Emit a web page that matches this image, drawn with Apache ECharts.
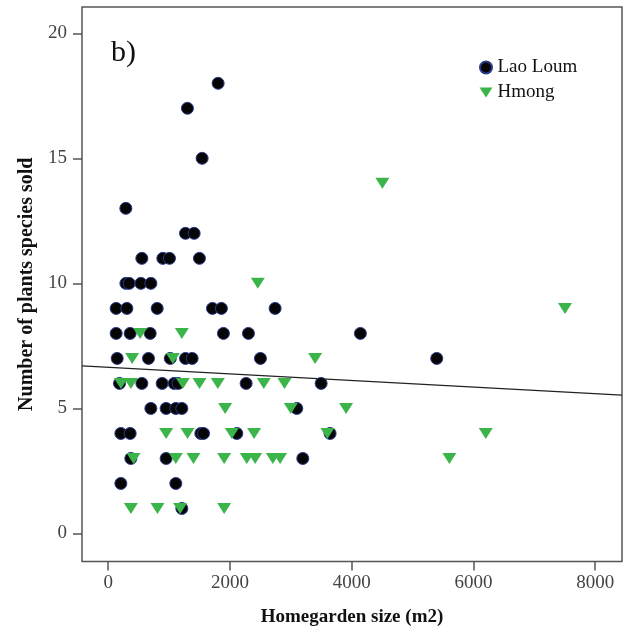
<!DOCTYPE html>
<html>
<head>
<meta charset="utf-8">
<script src="https://cdn.jsdelivr.net/npm/echarts@6/dist/echarts.min.js"></script>
<style>
  html, body { margin: 0; padding: 0; background: #fff; }
  #chart { width: 626px; height: 637px; }
</style>
</head>
<body>
<div id="chart"></div>
<script>
// Homegarden size (m2) and number of plant species sold, per household
const laoLoumSize = [
  1806, 1302, 1543, 290,
  1270, 1412,
  553, 898, 1007, 1499,
  291, 345, 537, 701,
  131, 307, 805, 1713, 1860, 2742,
  131, 361, 690, 1893, 2304, 4143,
  148, 662, 1020, 1270, 1379, 2501, 5397,
  186, 553, 887, 1084, 1150, 2266, 3498,
  701, 952, 1111, 1210, 3098,
  208, 361, 1522, 1566, 2113, 3645,
  372, 952, 3197,
  208, 1111,
  1210
];
const laoLoumSpecies = [
  18, 17, 15, 13,
  12, 12,
  11, 11, 11, 11,
  10, 10, 10, 10,
  9, 9, 9, 9, 9, 9,
  8, 8, 8, 8, 8, 8,
  7, 7, 7, 7, 7, 7, 7,
  6, 6, 6, 6, 6, 6, 6,
  5, 5, 5, 5, 5,
  4, 4, 4, 4, 4, 4,
  3, 3, 3,
  2, 2,
  1
];

const hmongSize = [
  4504, 2458, 7504,
  525, 1210,
  394, 1062, 3399,
  209, 373, 1226, 1500, 1801, 2556, 2896,
  1921, 3000, 3908,
  952, 1303, 2031, 2397, 3601, 6202,
  416, 1111, 1401, 1905, 2277, 2414, 2704, 2824, 5604,
  373, 810, 1182, 1905
];
const hmongSpecies = [
  14, 10, 9,
  8, 8,
  7, 7, 7,
  6, 6, 6, 6, 6, 6, 6,
  5, 5, 5,
  4, 4, 4, 4, 4, 4,
  3, 3, 3, 3, 3, 3, 3, 3, 3,
  1, 1, 1, 1
];

// Linear fit line (all households)
const fitIntercept = 6.644;
const fitSlope = -0.0001314;

const xTicks = [0, 2000, 4000, 6000, 8000];
const yTicks = [0, 5, 10, 15, 20];

const xMin = -430, xMax = 8440;
const yMin = -1.12, yMax = 21.05;

const pairs = (xs, ys) => xs.map((x, i) => [x, ys[i]]);
const fitLine = [xMin, xMax].map(x => [x, fitIntercept + fitSlope * x]);

const serif = '"Liberation Serif", "DejaVu Serif", serif';
const downTriangle = 'path://M0,0L14,0L7,11Z';

const chart = echarts.init(document.getElementById('chart'), null, { renderer: 'canvas' });

chart.setOption({
  animation: false,
  backgroundColor: '#fff',
  grid: {
    left: 82, top: 7, width: 540, height: 554.5,
    show: true, borderColor: '#555', borderWidth: 1.5, backgroundColor: '#fff'
  },
  xAxis: {
    type: 'value', min: xMin, max: xMax,
    axisLine: { show: false, onZero: false },
    splitLine: { show: false },
    axisTick: { show: true, length: 9, customValues: xTicks, lineStyle: { color: '#555', width: 1.5 } },
    axisLabel: {
      customValues: xTicks, fontFamily: serif, fontSize: 19, color: '#444', margin: 12,
      formatter: v => String(v)
    },
    name: 'Homegarden size (m2)', nameLocation: 'middle', nameGap: 46,
    nameTextStyle: { fontFamily: serif, fontSize: 19, fontWeight: 'bold', color: '#111' }
  },
  yAxis: {
    type: 'value', min: yMin, max: yMax,
    axisLine: { show: false, onZero: false },
    splitLine: { show: false },
    axisTick: { show: true, length: 9, customValues: yTicks, lineStyle: { color: '#555', width: 1.5 } },
    axisLabel: { customValues: yTicks, fontFamily: serif, fontSize: 19, color: '#444', margin: 15 },
    name: 'Number of plants species sold', nameLocation: 'middle', nameGap: 45, nameRotate: 90,
    nameTextStyle: { fontFamily: serif, fontSize: 20, fontWeight: 'bold', color: '#111' }
  },
  legend: {
    orient: 'vertical', left: 474, top: 53,
    itemWidth: 13, itemHeight: 12, itemGap: 6,
    textStyle: { fontFamily: serif, fontSize: 19, color: '#111' },
    data: [
      { name: 'Lao Loum', icon: 'circle' },
      { name: 'Hmong', icon: downTriangle }
    ]
  },
  graphic: [{
    type: 'text', left: 111, top: 38,
    style: { text: 'b)', font: '30px ' + serif, fill: '#111' }
  }],
  series: [
    {
      name: 'Lao Loum', type: 'scatter',
      data: pairs(laoLoumSize, laoLoumSpecies),
      symbol: 'circle', symbolSize: 12,
      itemStyle: { color: '#050505', borderColor: '#2b3a8c', borderWidth: 1, opacity: 1 }
    },
    {
      name: 'Hmong', type: 'scatter',
      data: pairs(hmongSize, hmongSpecies),
      symbol: downTriangle, symbolSize: [14, 11],
      itemStyle: { color: '#3bb54a', opacity: 1 }
    },
    {
      name: 'fit', type: 'line', data: fitLine,
      symbol: 'none', silent: true,
      lineStyle: { color: '#222', width: 1.2 },
      z: 1
    }
  ]
});
</script>
</body>
</html>
